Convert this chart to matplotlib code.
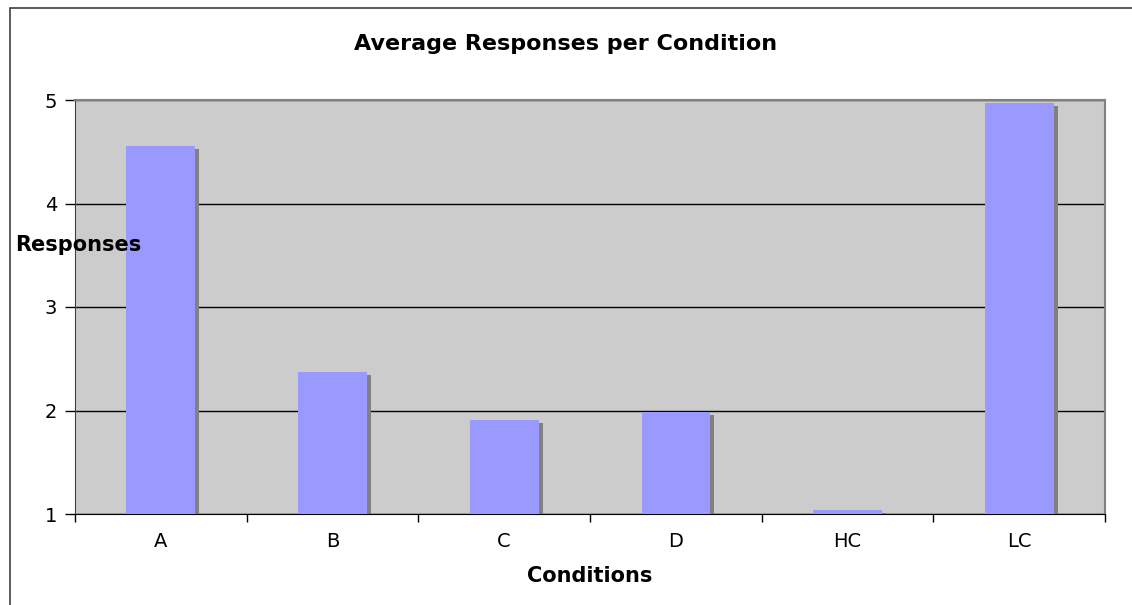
import matplotlib
matplotlib.use("Agg")
import matplotlib.pyplot as plt
import matplotlib.transforms as mtransforms
from matplotlib.patches import Rectangle
import numpy as np

categories = ["A", "B", "C", "D", "HC", "LC"]
responses = [4.56, 2.37, 1.91, 1.99, 1.04, 4.97]
y_ticks = [1, 2, 3, 4, 5]

title = "Average Responses per Condition"
xlabel = "Conditions"
ylabel = "Responses"

plt.rcParams['font.family'] = ['DejaVu Sans']

fig = plt.figure(figsize=(11.32, 6.05), dpi=100)
W, H = 1132, 605
ax = fig.add_axes([75 / W, 1 - 514 / H, 1030 / W, 414 / H])
ax.set_facecolor("#CCCCCC")

x = np.arange(len(categories))
base = 1
heights = [v - base for v in responses]
bw = 0.40

shadow_tr = ax.transData + mtransforms.ScaledTranslation(4 / 100, -3 / 100, fig.dpi_scale_trans)
ax.bar(x, heights, bw, bottom=base, color="#808080", transform=shadow_tr, zorder=2)
ax.bar(x, heights, bw, bottom=base, color="#9999FF", zorder=3)

ax.set_xlim(-0.5, len(categories) - 0.5)
ax.set_ylim(1, 5)
ax.set_yticks(y_ticks)
ax.set_yticklabels([str(t) for t in y_ticks], fontsize=14)
ax.yaxis.grid(True, color="#000000", linewidth=1.0, zorder=1)
ax.set_axisbelow(True)

ax.set_xticks(x)
ax.set_xticklabels(categories, fontsize=14)
ax.set_xticks(np.arange(-0.5, len(categories)), minor=True)
ax.tick_params(axis="x", which="major", length=0, pad=13)
ax.tick_params(axis="x", which="minor", length=6, width=1, color="#000000", direction="out")
ax.tick_params(axis="y", which="major", length=7, width=1, color="#000000", pad=6)

for s in ["top", "right"]:
    ax.spines[s].set_color("#808080")
    ax.spines[s].set_linewidth(1.5)
ax.spines["left"].set_color("#404040")
ax.spines["bottom"].set_color("#000000")

fig.text(566 / W, 1 - 44 / H, title, ha="center", va="center", fontsize=16, fontweight="bold")
fig.text(590 / W, 1 - 576 / H, xlabel, ha="center", va="center", fontsize=15, fontweight="bold")
fig.text(15 / W, 1 - 245 / H, ylabel, ha="left", va="center", fontsize=15, fontweight="bold", zorder=10)

# outer chart border (top and left visible)
fig.add_artist(Rectangle((10 / W, -0.1), 1.2, (1 - 8 / H) + 0.1, transform=fig.transFigure,
                         fill=False, edgecolor="#404040", linewidth=1.2))

fig.savefig("out.png", dpi=100)
